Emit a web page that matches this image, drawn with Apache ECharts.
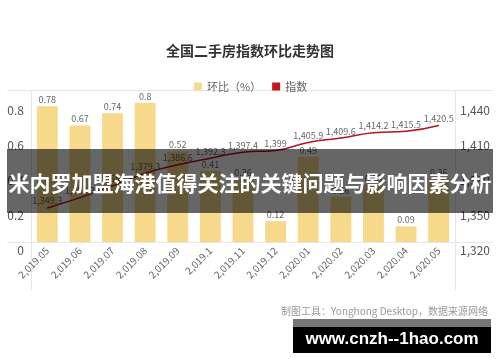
<!DOCTYPE html>
<html><head><meta charset="utf-8">
<script src="https://cdn.jsdelivr.net/npm/echarts@6/dist/echarts.min.js"></script>
<style>html,body{margin:0;padding:0;background:#fff}#c{width:500px;height:362px}</style>
</head><body><div id="c"></div>
<script>
var categories = ['2,019.05','2,019.06','2,019.07','2,019.08','2,019.09','2,019.1','2,019.11','2,019.12','2,020.01','2,020.02','2,020.03','2,020.04','2,020.05'];
var momValues = [0.78,0.67,0.74,0.8,0.52,0.41,0.36,0.12,0.49,0.26,0.33,0.09,0.36];
var indexValues = [1349.3,1358.3,1368.4,1379.3,1386.6,1392.3,1397.4,1399,1405.9,1409.6,1414.2,1415.5,1420.5];
var leftTicks = [0,0.2,0.4,0.6,0.8];
var rightTicks = [1320,1350,1380,1410,1440];

function fmt(v){var p=String(v).split('.');p[0]=p[0].replace(/\B(?=(\d{3})+(?!\d))/g,',');return p.join('.');}
var FONT='"Noto Sans CJK SC","Noto Sans",sans-serif';
var chart = echarts.init(document.getElementById('c'), null, {renderer:'canvas'});
var lineColor='#e6e6e6';
chart.setOption({
  animation:false,
  textStyle:{fontFamily:FONT},
  title:{text:'全国二手房指数环比走势图',left:'center',top:39,textStyle:{fontSize:14,fontWeight:'bold',color:'#333',fontFamily:FONT}},
  legend:{left:189,top:76,itemWidth:8,itemHeight:8,itemGap:11,icon:'rect',textStyle:{fontSize:11,color:'#666',fontFamily:FONT},
    data:['环比（%）','指数']},
  grid:{left:31,right:45,top:90,bottom:120},
  xAxis:{type:'category',data:categories,axisLine:{show:false},axisTick:{show:false},
    axisLabel:{rotate:45,fontSize:10,color:'#666',margin:7,interval:0,fontFamily:FONT}},
  yAxis:[
    {type:'value',min:0,max:0.874,interval:0.2,splitLine:{show:false},axisLine:{show:false},axisTick:{show:false},
      axisLabel:{customValues:leftTicks,fontSize:12,color:'#555',margin:7,verticalAlign:'top',padding:[2,0,0,0],fontFamily:FONT}},
    {type:'value',min:1320,max:1451.1,interval:30,splitLine:{show:false},axisLine:{show:false},axisTick:{show:false},
      axisLabel:{customValues:rightTicks,fontSize:12,color:'#555',margin:5,verticalAlign:'top',padding:[2,0,0,0],formatter:function(v){return fmt(v);},fontFamily:FONT}}
  ],
  series:[
    {name:'环比（%）',type:'bar',data:momValues,barWidth:'64%',itemStyle:{color:'#f6d98b'},
      label:{show:true,position:'top',distance:2,fontSize:9,color:'#666',fontFamily:FONT}},
    {name:'指数',type:'line',yAxisIndex:1,data:indexValues,smooth:true,symbol:'circle',symbolSize:1,
      itemStyle:{color:'#c8141e'},lineStyle:{color:'#b5141d',width:1.5},
      label:{show:true,position:'top',distance:2,fontSize:9,color:'#666',formatter:function(p){return fmt(p.value);},fontFamily:FONT}}
  ],
  graphic:[
    {type:'line',shape:{x1:7,y1:90.5,x2:493,y2:90.5},style:{stroke:lineColor,lineWidth:1},silent:true},
    {type:'line',shape:{x1:7,y1:242.5,x2:493,y2:242.5},style:{stroke:lineColor,lineWidth:1},silent:true},
    {type:'line',shape:{x1:31.5,y1:90,x2:31.5,y2:290},style:{stroke:lineColor,lineWidth:1},silent:true},
    {type:'line',shape:{x1:455.5,y1:90,x2:455.5,y2:290},style:{stroke:lineColor,lineWidth:1},silent:true},
    {type:'text',right:12,top:306,style:{text:'制图工具：Yonghong Desktop，数据来源网络',fontSize:10,fill:'#999',fontFamily:FONT}},
    {type:'rect',shape:{x:7,y:149,width:486,height:64},style:{fill:'rgba(0,0,0,0.6)'},z:100},
    {type:'text',x:250,y:183,z:101,style:{text:'米内罗加盟海港值得关注的关键问题与影响因素分析',fontSize:21,fontWeight:'bold',fill:'#fff',align:'center',verticalAlign:'middle',fontFamily:FONT}},
    {type:'rect',shape:{x:293,y:319,width:198,height:8},style:{fill:'#777'},z:100},
    {type:'rect',shape:{x:293,y:327,width:198,height:26},style:{fill:'#000'},z:100},
    {type:'text',x:392,y:339,z:101,style:{text:'www.cnzh--1hao.com',fontSize:17,fontWeight:'bold',fill:'#fff',align:'center',verticalAlign:'middle',fontFamily:'"Liberation Sans",Arial,sans-serif'}}
  ]
});
</script></body></html>
